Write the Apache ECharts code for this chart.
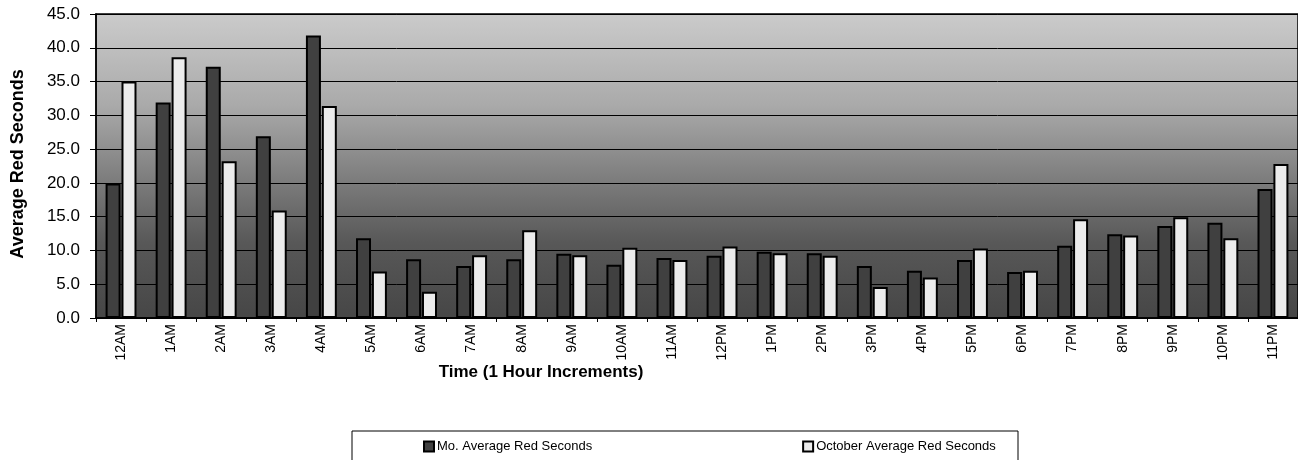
<!DOCTYPE html>
<html><head><meta charset="utf-8">
<script src="https://cdn.jsdelivr.net/npm/echarts@6/dist/echarts.min.js"></script>
<style>html,body{margin:0;padding:0;background:#fff}#c{width:1298px;height:460px}</style>
</head><body><div id="c"></div>
<script>
const categories = ['12AM','1AM','2AM','3AM','4AM','5AM','6AM','7AM','8AM','9AM','10AM','11AM','12PM','1PM','2PM','3PM','4PM','5PM','6PM','7PM','8PM','9PM','10PM','11PM'];
const moAverage = [19.9,31.9,37.2,26.9,41.8,11.8,8.7,7.7,8.7,9.5,7.9,8.9,9.2,9.8,9.6,7.7,7.0,8.6,6.8,10.7,12.4,13.6,14.1,19.1];
const octAverage = [35.0,38.6,23.2,15.9,31.4,6.9,3.9,9.3,13.0,9.3,10.4,8.6,10.6,9.6,9.2,4.6,6.0,10.3,7.0,14.6,12.2,14.9,11.8,22.8];
const yTicks = [0,5,10,15,20,25,30,35,40,45];
const seriesNames = ['Mo. Average Red Seconds','October Average Red Seconds'];

const chart = echarts.init(document.getElementById('c'), null, {renderer:'canvas'});
const font = 'Arial, "Liberation Sans", sans-serif';
chart.setOption({
  animation:false,
  backgroundColor:'#fff',
  grid:{left:96, top:14, width:1205, height:304, containLabel:false,
    show:true,
    backgroundColor:{type:'linear',x:0,y:0,x2:0,y2:1,colorStops:[
      {offset:0,color:'#cbcbcb'},{offset:0.3,color:'#aaaaaa'},{offset:0.55,color:'#7c7c7c'},
      {offset:0.75,color:'#585858'},{offset:1,color:'#464646'}]},
    borderColor:'#000', borderWidth:1.5},
  xAxis:{type:'category', data:categories, boundaryGap:true,
    axisLine:{lineStyle:{color:'#000',width:1.5}},
    axisTick:{show:true, length:4, lineStyle:{color:'#000'}},
    axisLabel:{rotate:90, color:'#000', fontFamily:font, fontSize:14, margin:6, interval:0}},
  yAxis:{type:'value', min:yTicks[0], max:yTicks[yTicks.length-1], interval:5,
    axisLine:{show:true, lineStyle:{color:'#000',width:1.5}},
    axisTick:{show:true, length:6, lineStyle:{color:'#000'}},
    splitLine:{lineStyle:{color:'#000', width:1}},
    axisLabel:{color:'#000', fontFamily:font, fontSize:17, margin:16, formatter:v=>v.toFixed(1)}},
  legend:{show:true, left:418, top:435, itemGap:210, itemWidth:10, itemHeight:10, icon:'rect',
    textStyle:{color:'#000', fontFamily:font, fontSize:13, padding:[0,0,0,-2]}},
  graphic:[
    {type:'text', x:18, y:164, rotation:Math.PI/2, style:{text:'Average Red Seconds', font:'bold 18px '+font, fill:'#000', textAlign:'center', textVerticalAlign:'middle'}},
    {type:'text', x:541, y:372, style:{text:'Time (1 Hour Increments)', font:'bold 17px '+font, fill:'#000', textAlign:'center', textVerticalAlign:'middle'}},
    {type:'rect', shape:{x:352, y:431, width:666, height:40}, style:{fill:'none', stroke:'#000', lineWidth:1}}
  ],
  series:[
    {name:seriesNames[0], type:'bar', data:moAverage, barWidth:15, barGap:'6%',
      itemStyle:{color:'#404040', borderColor:'#000', borderWidth:2}},
    {name:seriesNames[1], type:'bar', data:octAverage, barWidth:15,
      itemStyle:{color:'#ececec', borderColor:'#000', borderWidth:2}}
  ]
});
</script></body></html>
